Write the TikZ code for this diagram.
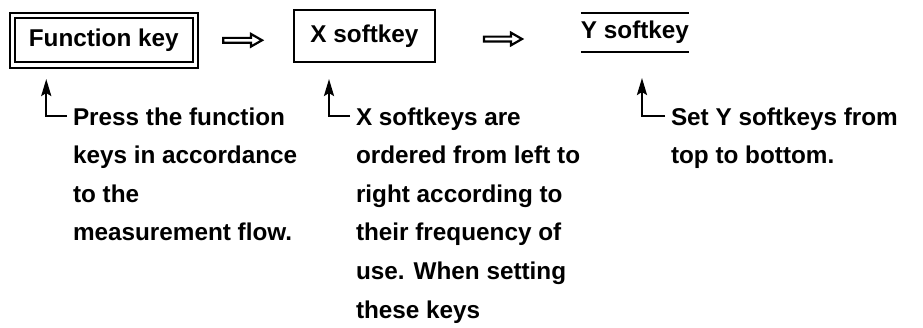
\documentclass[tikz,border=0pt]{standalone}
\usepackage{fontspec}
\setmainfont{Liberation Sans}
\usetikzlibrary{arrows.meta,calc}
\tikzset{
  txt/.style={font=\bfseries\fontsize{24.3}{38.6}\selectfont},
  keybox/.style={txt, draw, line width=2pt, inner sep=0pt, outer sep=0pt},
  lbl/.style={txt, anchor=base west, inner sep=0pt, outer sep=0pt},
  uparr/.style={line width=2.4pt, -{Stealth[length=17pt,width=10pt,inset=3pt]}},
  hollowto/.style={line width=2.2pt, line join=miter, to path={
    let \p1=(\tikztostart), \p2=(\tikztotarget) in
    (\x1,\y1+2.4pt) -- (\x2-11pt,\y1+2.4pt) -- (\x2-11pt,\y1+6.3pt) -- (\x2,\y1)
    -- (\x2-11pt,\y1-6.3pt) -- (\x2-11pt,\y1-2.4pt) -- (\x1,\y1-2.4pt) -- cycle}}
}
\begin{document}
\begin{tikzpicture}[x=1pt,y=-1pt]
\fill[white] (0,0) rectangle (923,327);
\useasboundingbox (0,0) rectangle (923,327);

\node[keybox, double, line width=1.9pt, double distance=3.4pt,
      minimum width=183pt, minimum height=49.5pt] (fk) at (103.75,40.25) {Function key};
\node[keybox, minimum width=141pt, minimum height=52pt] (xs) at (364.5,36) {X softkey};
\node[txt, inner sep=0pt, outer sep=0pt, minimum width=108pt, minimum height=39pt] (ys) at (635,32.5) {Y softkey};
\draw[line width=2pt] (ys.north west) -- (ys.north east);
\draw[line width=2pt] (ys.south west) -- (ys.south east);

\draw[hollowto] ($(fk.east)+(28,0)$) to ($(xs.west)+(-32,4)$);
\draw[hollowto] ($(xs.east)+(49,3)$) to ($(ys.west)+(-59,6.5)$);

\node[lbl] (t1) at (73,125) {\vtop{\hbox{Press the function}\hbox{keys in accordance}\hbox{to the}\hbox{measurement flow.}}};
\node[lbl] (t2) at (356,125) {\vtop{\hbox{X softkeys are}\hbox{ordered from left to}\hbox{right according to}\hbox{their frequency of}\hbox{use. When setting}\hbox{these keys}}};
\node[lbl] (t3) at (671,125) {\vtop{\hbox{Set Y softkeys from}\hbox{top to bottom.}}};

\draw[uparr] ($(t1.base west)+(-6,-9)$) -| ($(fk.south west)+(34,14)$);
\draw[uparr] ($(t2.base west)+(-6,-9)$) -| ($(xs.south west)+(35,17)$);
\draw[uparr] ($(t3.base west)+(-6,-9)$) -| ($(ys.south west)+(61,26)$);
\end{tikzpicture}
\end{document}
